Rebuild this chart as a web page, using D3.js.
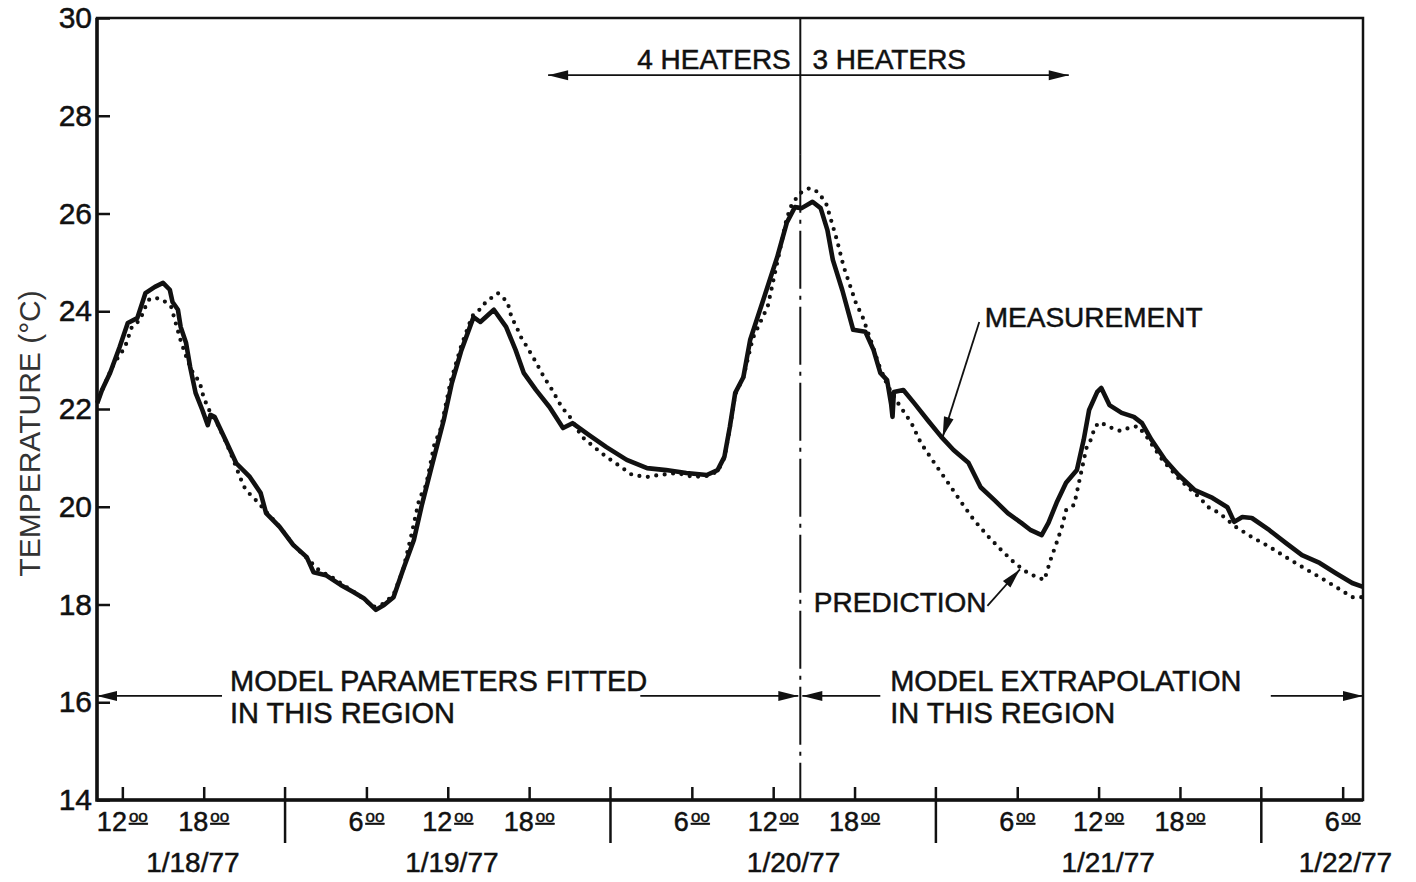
<!DOCTYPE html>
<html>
<head>
<meta charset="utf-8">
<script src="https://cdn.jsdelivr.net/npm/d3@7"></script>
<style>
  body { margin: 0; background: #fff; }
  text { font-family: "Liberation Sans", Arial, sans-serif; fill: #111; stroke: #111; stroke-width: 0.5px; }
</style>
</head>
<body>
<div id="canvas"></div>
<script>
// time in hours counted from 1/18/77 00:00
var measHours = [10.15, 10.5, 11.1, 11.8, 12.4, 13.1, 13.7, 14.4, 15.0, 15.5, 15.7, 16.1, 16.3, 16.7, 17.0, 17.4, 17.9, 18.3, 18.5, 18.8,
    19.6, 20.4, 21.4, 22.2, 22.6, 23.6, 24.6, 25.6, 26.1, 27.0, 28.1, 29.0, 29.8, 30.7, 31.3, 32.0, 32.7, 33.5, 34.1, 34.8,
    35.7, 36.3, 37.0, 37.9, 38.4, 39.4, 40.3, 41.0, 41.6, 42.5, 43.5, 44.5, 45.2, 46.4, 47.7, 49.2, 50.7, 52.1, 53.6, 55.1,
    55.9, 56.4, 56.8, 57.2, 57.8, 58.3, 59.5, 60.3, 61.0, 61.6, 62.1, 62.9, 63.5, 64.0, 64.4, 65.1, 65.9, 66.8, 67.4, 67.9,
    68.4, 68.7, 68.8, 68.9, 69.6, 70.4, 71.4, 72.4, 73.3, 74.4, 75.3, 76.3, 77.3, 78.3, 79.0, 79.8, 80.3, 80.9, 81.6, 82.4,
    82.9, 83.3, 83.9, 84.2, 84.8, 85.7, 86.6, 87.2, 87.9, 88.9, 89.9, 91.1, 92.4, 93.5, 94.0, 94.6, 95.3, 96.6, 97.8, 99.0,
    100.3, 101.5, 102.7, 103.5];
var measTemps = [22.12, 22.39, 22.74, 23.27, 23.76, 23.86, 24.37, 24.50, 24.58, 24.44, 24.19, 24.03, 23.68, 23.35, 22.86, 22.33, 21.98, 21.67, 21.88, 21.84,
    21.37, 20.89, 20.61, 20.28, 19.87, 19.59, 19.22, 18.97, 18.66, 18.60, 18.40, 18.26, 18.13, 17.89, 17.99, 18.15, 18.71, 19.32, 20.05, 20.81,
    21.77, 22.53, 23.20, 23.88, 23.78, 24.03, 23.68, 23.21, 22.74, 22.39, 22.04, 21.61, 21.71, 21.47, 21.22, 20.96, 20.79, 20.75, 20.69, 20.65,
    20.75, 21.02, 21.63, 22.33, 22.65, 23.41, 24.43, 25.11, 25.81, 26.13, 26.11, 26.24, 26.11, 25.66, 25.05, 24.43, 23.62, 23.58, 23.21, 22.74,
    22.59, 22.10, 21.84, 22.35, 22.39, 22.12, 21.77, 21.43, 21.16, 20.90, 20.40, 20.14, 19.87, 19.67, 19.52, 19.42, 19.67, 20.08, 20.49, 20.75,
    21.37, 21.98, 22.35, 22.43, 22.08, 21.92, 21.84, 21.71, 21.37, 20.96, 20.65, 20.34, 20.18, 19.99, 19.69, 19.79, 19.77, 19.52, 19.26, 19.01,
    18.85, 18.64, 18.44, 18.36];

var predHours = [10.3, 11.0, 11.4, 11.8, 12.2, 12.7, 13.3, 13.7, 14.0, 14.5, 15.0, 15.6, 16.3, 16.8, 17.2, 17.7, 18.0, 18.4, 19.0, 19.6,
    20.2, 20.7, 21.0, 21.4, 21.9, 22.6, 23.6, 24.6, 25.6, 26.5, 27.5, 28.5, 29.5, 30.5, 31.3, 32.0, 32.7, 33.3, 33.9, 34.4,
    35.0, 35.5, 36.2, 37.0, 37.8, 38.5, 38.8, 39.7, 40.4, 40.7, 41.1, 41.4, 41.8, 42.5, 43.1, 43.7, 44.4, 45.0, 45.9, 46.8,
    47.7, 48.7, 49.6, 50.7, 51.6, 52.9, 54.1, 55.1, 55.9, 56.4, 56.8, 57.2, 57.8, 58.5, 59.6, 60.3, 61.0, 61.4, 62.1, 62.7,
    63.3, 63.9, 64.2, 64.7, 65.2, 65.7, 66.1, 66.6, 67.2, 67.8, 68.4, 68.9, 69.4, 70.2, 70.9, 71.9, 72.9, 73.9, 74.8, 75.9,
    76.8, 77.8, 78.8, 80.0, 80.5, 80.9, 81.3, 81.6, 82.2, 83.1, 83.5, 83.7, 84.1, 84.8, 85.6, 86.2, 86.9, 87.5, 88.7, 90.0,
    91.4, 92.1, 92.9, 94.1, 95.3, 96.6, 97.8, 99.0, 100.3, 101.5, 102.7, 103.5];
var predTemps = [22.25, 22.70, 22.94, 23.10, 23.27, 23.68, 23.82, 24.09, 24.25, 24.27, 24.23, 24.09, 23.40, 23.00, 22.74, 22.55, 22.23, 21.98, 21.70, 21.35,
    20.95, 20.59, 20.40, 20.26, 20.12, 19.90, 19.59, 19.22, 18.95, 18.70, 18.55, 18.36, 18.18, 17.95, 18.02, 18.20, 18.70, 19.40, 20.16, 20.44,
    21.26, 21.61, 22.55, 23.30, 23.90, 24.07, 24.19, 24.37, 24.19, 23.88, 23.66, 23.47, 23.29, 22.96, 22.65, 22.39, 22.04, 21.84, 21.43, 21.22,
    21.02, 20.83, 20.65, 20.61, 20.65, 20.69, 20.61, 20.63, 20.72, 21.00, 21.60, 22.30, 22.65, 23.45, 24.10, 25.00, 25.90, 26.21, 26.44, 26.52,
    26.44, 26.21, 25.93, 25.46, 24.91, 24.50, 24.17, 23.88, 23.40, 22.90, 22.50, 22.25, 22.04, 21.71, 21.30, 20.89, 20.49, 20.08, 19.73, 19.38,
    19.12, 18.85, 18.64, 18.50, 18.95, 19.26, 19.59, 19.93, 20.04, 21.20, 21.41, 21.63, 21.73, 21.63, 21.55, 21.61, 21.65, 21.45, 20.96, 20.55,
    20.20, 19.99, 19.87, 19.59, 19.38, 19.18, 18.97, 18.77, 18.56, 18.36, 18.15, 18.15];

var yTicks = [14, 16, 18, 20, 22, 24, 26, 28, 30];
var hourTicks = [12, 18, 30, 36, 42, 54, 60, 66, 78, 84, 90, 102];
var hourLabels = ["12", "18", "6", "12", "18", "6", "12", "18", "6", "12", "18", "6"];
var dayTicks = [24, 48, 72, 96];
var dateAt = [17.2, 36.3, 61.5, 84.7, 102.2];
var dateLabels = ["1/18/77", "1/19/77", "1/20/77", "1/21/77", "1/22/77"];
var switchHour = 62;   // 4 heaters -> 3 heaters, end of fitting region

var w = 1416, h = 882;
var svg = d3.select("#canvas").append("svg").attr("width", w).attr("height", h);

var x = d3.scaleLinear().domain([10.13, 103.5]).range([97, 1363]);
var y = d3.scaleLinear().domain([14, 30]).range([800, 18]);

// frame
svg.append("rect").attr("x", x(10.13)).attr("y", y(30))
    .attr("width", x(103.5) - x(10.13)).attr("height", y(14) - y(30))
    .attr("fill", "none").attr("stroke", "#111").attr("stroke-width", 2.5);
svg.append("path").attr("d", "M" + x(10.13) + "," + y(30) + "V" + y(14) + "H" + x(103.5))
    .attr("fill", "none").attr("stroke", "#111").attr("stroke-width", 3.5);

// y axis
var gy = svg.append("g").attr("transform", "translate(" + x(10.13) + ",0)")
    .call(d3.axisLeft(y).tickValues(yTicks).tickSize(-13).tickPadding(5).tickFormat(d3.format("d")));
gy.select(".domain").remove();
gy.selectAll("line").attr("stroke", "#111").attr("stroke-width", 2.5);
gy.selectAll("text").style("font-size", "30px").style("font-family", "Liberation Sans")
    .attr("fill", "#111").attr("stroke", "#111").attr("stroke-width", 0.5);

svg.append("text")
    .attr("transform", "translate(40," + y(21.5) + ") rotate(-90)")
    .attr("text-anchor", "middle")
    .style("font-size", "30px").style("fill", "#333").style("stroke", "none")
    .text("TEMPERATURE (°C)");

// x axis: 6 hour ticks (inside) and day ticks (crossing)
var gx = svg.append("g").attr("transform", "translate(0," + y(14) + ")")
    .call(d3.axisBottom(x).tickValues(hourTicks).tickSize(-13).tickFormat(""));
gx.select(".domain").remove();
gx.selectAll("line").attr("stroke", "#111").attr("stroke-width", 2.5);

svg.append("g").selectAll("line").data(dayTicks).join("line")
    .attr("x1", d => x(d)).attr("x2", d => x(d))
    .attr("y1", y(14) - 13).attr("y2", y(14) + 43)
    .attr("stroke", "#111").attr("stroke-width", 2.5);

var hl = svg.append("g").selectAll("text").data(hourTicks).join("text")
    .attr("x", d => x(d)).attr("y", y(14) + 31)
    .attr("text-anchor", "middle")
    .style("font-size", "27px");
hl.append("tspan").text((d, i) => hourLabels[i]);
hl.append("tspan").attr("dy", -9).attr("dx", 2).style("font-size", "17px")
    .style("text-decoration", "underline").text("oo");

svg.append("g").selectAll("text").data(dateAt).join("text")
    .attr("x", d => x(d)).attr("y", y(14) + 72)
    .attr("text-anchor", "middle")
    .style("font-size", "28px")
    .text((d, i) => dateLabels[i]);

// curves
var line = d3.line().x(d => x(d[0])).y(d => y(d[1])).curve(d3.curveLinear);
var meas = measHours.map((d, i) => [d, measTemps[i]]);
var pred = predHours.map((d, i) => [d, predTemps[i]]);

svg.append("path").attr("d", line(pred))
    .attr("fill", "none").attr("stroke", "#111").attr("stroke-width", 4.2)
    .attr("stroke-linecap", "round").attr("stroke-dasharray", "0,8.5");
svg.append("path").attr("d", line(meas))
    .attr("fill", "none").attr("stroke", "#111").attr("stroke-width", 4.6)
    .attr("stroke-linejoin", "round");

// vertical switch line
svg.append("line").attr("x1", x(switchHour)).attr("x2", x(switchHour))
    .attr("y1", y(30)).attr("y2", y(27.2))
    .attr("stroke", "#111").attr("stroke-width", 2);
svg.append("line").attr("x1", x(switchHour)).attr("x2", x(switchHour))
    .attr("y1", y(27.2)).attr("y2", y(14))
    .attr("stroke", "#111").attr("stroke-width", 2).attr("stroke-dasharray", "58,7,4,7");

// arrows
function arrow(x1, y1, x2, y2, head) {
    svg.append("line").attr("x1", x1).attr("y1", y1).attr("x2", x2).attr("y2", y2)
        .attr("stroke", "#111").attr("stroke-width", 1.8);
    if (head) {
        var a = Math.atan2(y2 - y1, x2 - x1), L = 20, hw = 5;
        var bx = x2 - L * Math.cos(a), by = y2 - L * Math.sin(a);
        var px = -Math.sin(a) * hw, py = Math.cos(a) * hw;
        svg.append("path")
            .attr("d", "M" + x2 + "," + y2 + "L" + (bx + px) + "," + (by + py) + "L" + (bx - px) + "," + (by - py) + "Z")
            .attr("fill", "#111");
    }
}

// heaters
var hy = y(28.83);
arrow(x(switchHour), hy, x(43.4), hy, true);
arrow(x(switchHour), hy, x(81.8), hy, true);
svg.append("text").attr("x", x(61.3)).attr("y", y(28.96)).attr("text-anchor", "end")
    .style("font-size", "28px").text("4 HEATERS");
svg.append("text").attr("x", x(62.9)).attr("y", y(28.96))
    .style("font-size", "28px").text("3 HEATERS");

// regions
var ry = y(16.13);
arrow(x(19.35), ry, x(10.13), ry, true);
arrow(x(50.2), ry, x(switchHour) - 2, ry, true);
arrow(x(67.9), ry, x(switchHour) + 2, ry, true);
arrow(x(96.7), ry, x(103.5), ry, true);

var regionText = svg.append("g").style("font-size", "29px");
regionText.append("text").attr("x", x(19.94)).attr("y", y(16.23)).text("MODEL PARAMETERS FITTED");
regionText.append("text").attr("x", x(19.94)).attr("y", y(15.57)).text("IN THIS REGION");
regionText.append("text").attr("x", x(68.63)).attr("y", y(16.23)).text("MODEL EXTRAPOLATION");
regionText.append("text").attr("x", x(68.63)).attr("y", y(15.57)).text("IN THIS REGION");

// series labels
svg.append("text").attr("x", x(75.6)).attr("y", y(23.68))
    .style("font-size", "28px").text("MEASUREMENT");
arrow(x(75.2), y(23.78), x(72.5), y(21.43), true);

svg.append("text").attr("x", x(63.0)).attr("y", y(17.85))
    .style("font-size", "28px").text("PREDICTION");
arrow(x(75.8), y(17.97), x(78.2), y(18.72), true);
</script>
</body>
</html>
